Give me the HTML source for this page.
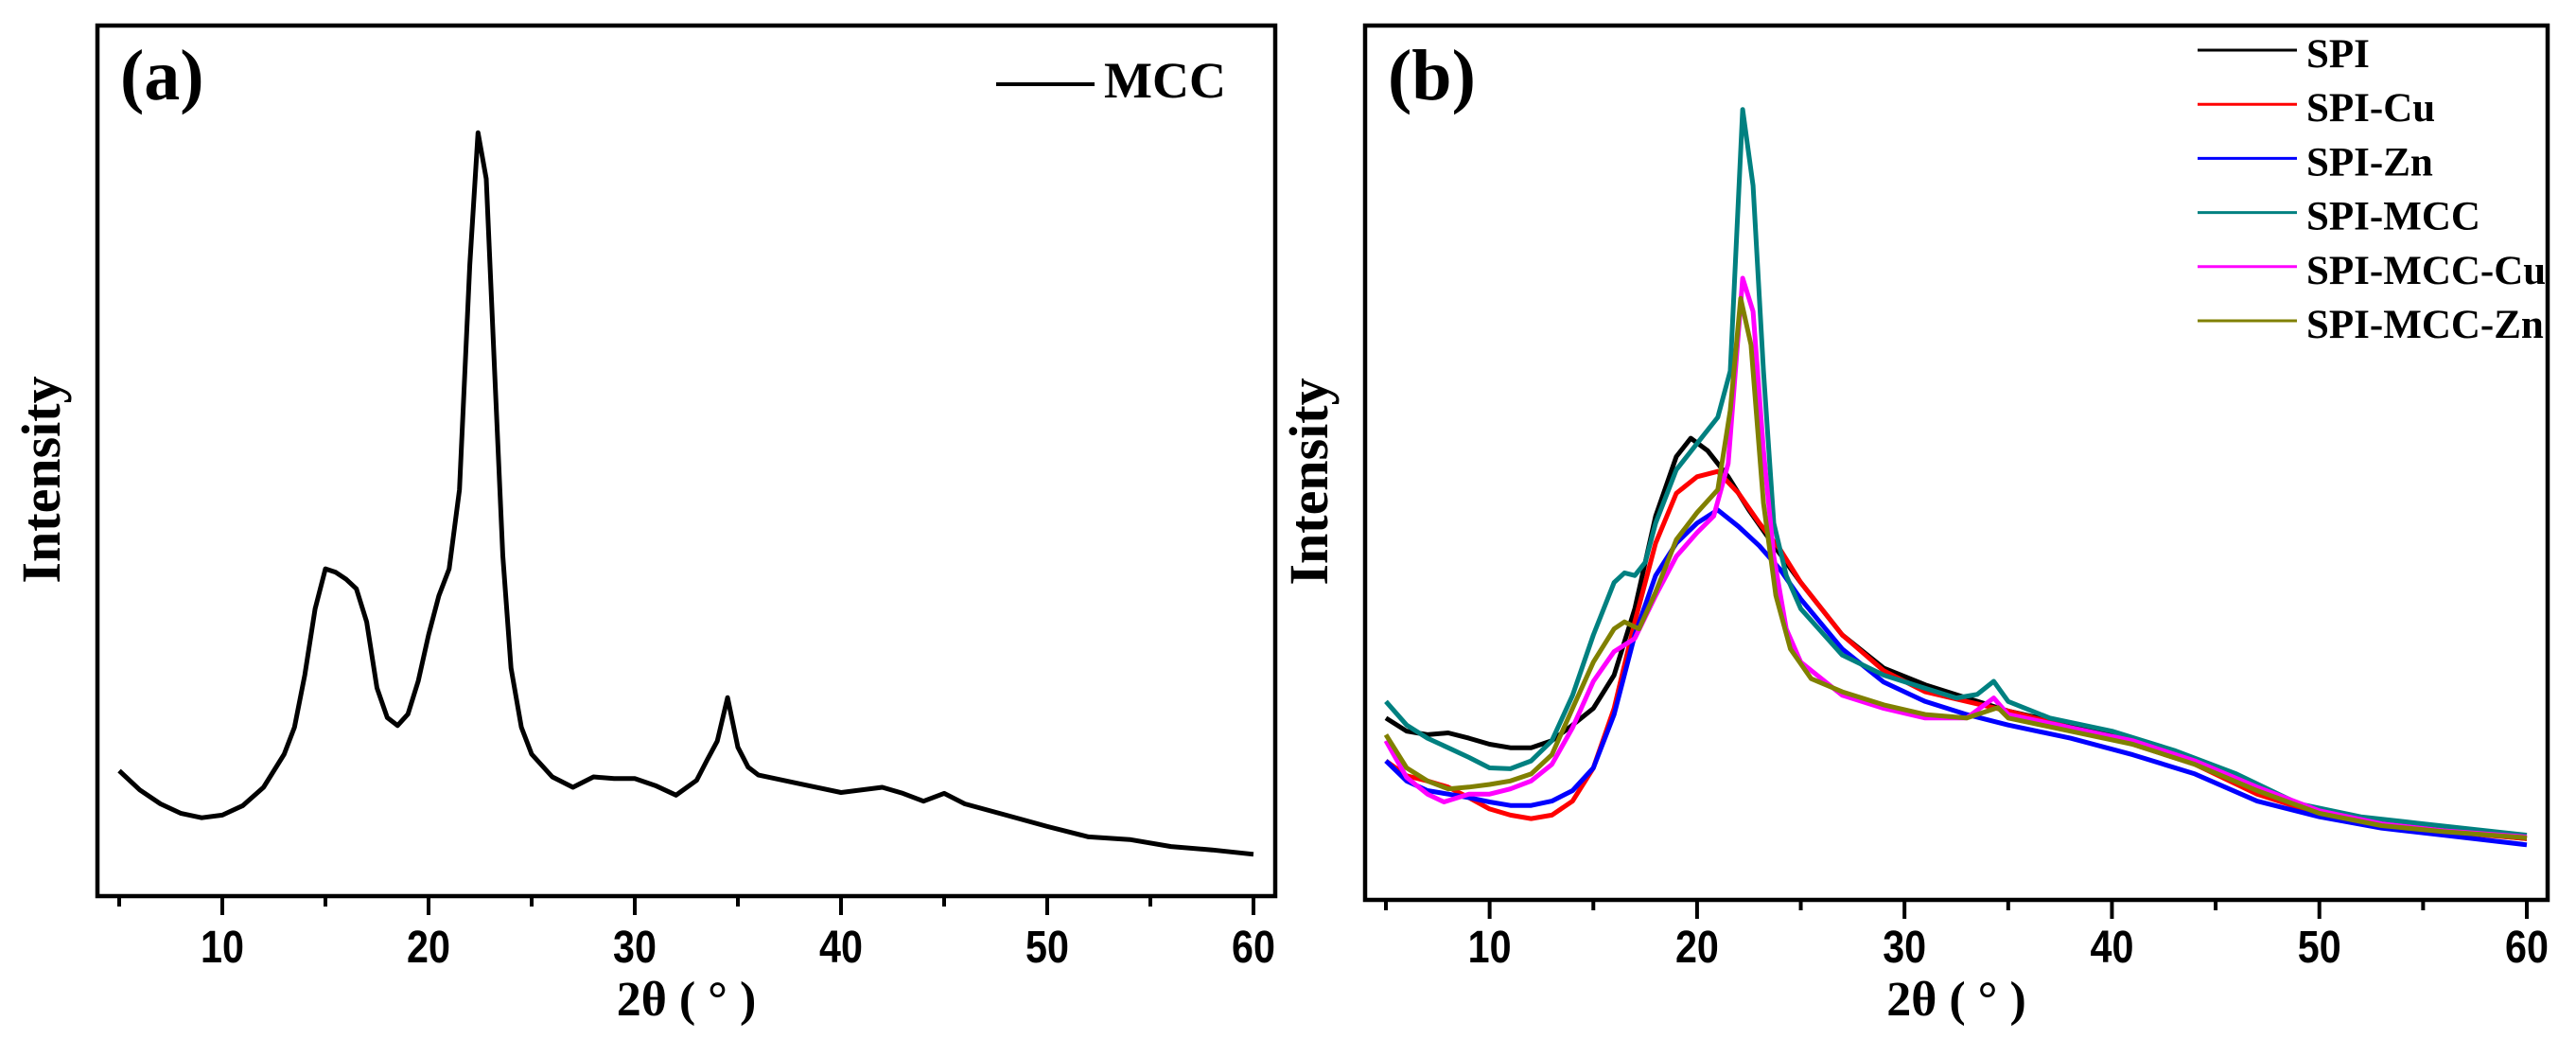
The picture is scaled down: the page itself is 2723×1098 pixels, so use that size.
<!DOCTYPE html>
<html><head><meta charset="utf-8">
<style>
html,body{margin:0;padding:0;background:#fff;}
svg{display:block;}
.tick{font-family:"Liberation Sans",sans-serif;font-weight:bold;font-size:48px;}
.ser{font-family:"Liberation Serif",serif;font-weight:bold;}
</style></head>
<body>
<svg id="chart" width="2723" height="1098" viewBox="0 0 2723 1098" xmlns="http://www.w3.org/2000/svg">
  <g id="pa"></g>
  <g id="pb"></g>
</svg>
<script>
const xTicks = [10,20,30,40,50,60];
const xMinor = [5,15,25,35,45,55];
const mccX = [5,6,7,8,9,10,11,12,13,13.5,14,14.5,15,15.5,16,16.5,17,17.5,18,18.5,19,19.5,20,20.5,21,21.5,22,22.4,22.8,23.2,23.6,24,24.5,25,26,27,28,29,30,31,32,33,33.5,34,34.5,35,35.5,36,38,40,42,43,44,45,46,48,50,52,54,56,58,60];
const mccY = [14.4,12.2,10.6,9.5,9.0,9.3,10.4,12.5,16.3,19.4,25.4,33.0,37.6,37.2,36.4,35.3,31.5,23.9,20.5,19.6,20.9,24.7,30.0,34.5,37.6,46.7,72.5,87.7,82.4,60.4,39.1,26.2,19.4,16.3,13.7,12.5,13.7,13.5,13.5,12.7,11.6,13.3,15.6,17.8,22.8,17.1,14.8,13.9,12.9,11.9,12.5,11.8,10.9,11.8,10.6,9.3,8.0,6.8,6.5,5.7,5.3,4.8];

const spiX = [5,6,7,8,9,10,11,12,13,14,15,16,17,18,19,19.7,20.5,21.5,22.5,23.5,25,27,29,31,33,35,38,41,44,47,50,53,56,60];
const spiY = [20.8,19.3,18.9,19.1,18.5,17.8,17.4,17.4,18.2,20.0,21.9,25.7,33.3,43.9,50.7,52.8,51.4,48.4,44.6,41.2,36.3,30.3,26.5,24.6,23.1,21.6,20.0,18.2,15.9,12.5,10.2,8.9,7.9,7.0];
const cuX = [5,6,7,8,9,10,11,12,13,14,15,16,17,18,19,20,21,22,23,24,25,27,29,31,33,35,38,41,44,47,50,53,56,60];
const cuY = [15.9,14.2,13.6,12.9,11.7,10.4,9.7,9.3,9.7,11.3,15.1,21.9,31.8,40.8,46.5,48.4,49.0,46.5,43.1,40.1,36.3,30.3,26.2,23.8,22.7,21.6,19.7,17.8,15.5,12.1,9.8,8.5,7.8,7.0];
const znX = [5,6,7,8,9,10,11,12,13,14,15,16,17,18,19,20,21,22,23,24,25,27,29,31,33,35,38,41,44,47,50,53,56,60];
const znY = [15.9,13.6,12.5,12.1,11.7,11.2,10.8,10.8,11.3,12.5,15.1,21.2,30.3,37.1,40.8,43.1,44.6,42.7,40.5,37.8,34.4,28.7,24.9,22.7,21.2,20.0,18.5,16.6,14.4,11.3,9.5,8.2,7.4,6.3];
const smX = [5,6,7,8,9,10,11,12,13,14,15,16,16.5,17,17.5,18,19,20,21,21.6,22.2,22.7,23.2,23.7,24.3,25,27,29,31,32.5,33.5,34.3,35,37,40,43,46,49,52,55,60];
const smY = [22.7,20.0,18.5,17.4,16.3,15.1,15.0,15.9,18.2,23.4,30.3,36.3,37.4,37.1,38.6,43.1,49.2,52.2,55.2,60.5,90.4,81.7,60.5,43.1,37.1,33.3,28.0,25.7,24.2,23.1,23.5,25.0,22.7,20.8,19.3,17.1,14.4,11.0,9.5,8.7,7.4];
const smcX = [5,6,7,7.8,9,10,11,12,13,14,15,16,17,18,19,20,20.8,21.5,22.2,22.7,23.2,23.7,24.3,25,27,29,31,33,34.3,35,38,41,44,47,50,53,56,60];
const smcY = [18.2,14.0,12.1,11.2,12.1,12.1,12.7,13.6,15.5,19.7,25.0,28.4,29.9,34.8,39.3,42.0,43.9,49.9,71.1,67.3,51.4,39.3,31.0,27.2,23.4,21.9,20.8,20.8,23.1,21.2,19.7,18.2,15.9,12.9,10.2,8.7,7.9,7.2];
const smzX = [5,6,7,8,9,10,11,12,13,14,15,16,16.5,17.2,18,19,20,21,21.6,22.1,22.6,23.2,23.8,24.5,25.5,27,29,31,33,34.5,35,38,41,44,47,50,53,56,60];
const smzY = [18.9,15.1,13.6,12.7,12.9,13.2,13.6,14.4,16.6,21.9,27.2,31.0,31.8,31.0,35.2,41.2,44.3,46.9,56.0,68.8,63.5,45.4,34.8,28.7,25.3,23.8,22.3,21.2,20.8,22.0,20.8,19.3,17.8,15.5,12.5,9.9,8.5,7.8,7.1];

const seriesB = [
  {name:'SPI', color:'#000000', x:spiX, y:spiY},
  {name:'SPI-Cu', color:'#ff0000', x:cuX, y:cuY},
  {name:'SPI-Zn', color:'#0000ff', x:znX, y:znY},
  {name:'SPI-MCC', color:'#008080', x:smX, y:smY},
  {name:'SPI-MCC-Cu', color:'#ff00ff', x:smcX, y:smcY},
  {name:'SPI-MCC-Zn', color:'#808000', x:smzX, y:smzY}
];

const NS = 'http://www.w3.org/2000/svg';
function mk(parent, tag, attrs, text){
  const e = document.createElementNS(NS, tag);
  for (const k in attrs) e.setAttribute(k, attrs[k]);
  if (text !== undefined) e.textContent = text;
  parent.appendChild(e);
  return e;
}

function panel(g, cfg){
  const sx = v => cfg.x5 + (v - 5) * (cfg.x60 - cfg.x5) / 55;
  const sy = v => cfg.bottom - v * (cfg.bottom - cfg.top) / 100;
  const fr = mk(g,'rect',{x:cfg.left,y:cfg.top,width:cfg.right-cfg.left,height:cfg.bottom-cfg.top,fill:'none',stroke:'#000','stroke-width':4.5});
  
  
  xTicks.forEach(t => {
    const l = mk(g,'line',{x1:sx(t),x2:sx(t),y1:cfg.bottom,y2:cfg.bottom+20,stroke:'#000','stroke-width':4});
    
    
    const cx = sx(t);
    const tx = mk(g,'text',{x:0,y:1017,'text-anchor':'middle',class:'tick',transform:'translate('+cx+' 0) scale(0.86 1)'}, String(t));
    
    
  });
  xMinor.forEach(t => {
    const l = mk(g,'line',{x1:sx(t),x2:sx(t),y1:cfg.bottom,y2:cfg.bottom+11,stroke:'#000','stroke-width':4});
    
    
  });
  cfg.series.forEach(s => {
    const pts = s.x.map((v,i) => sx(v).toFixed(1) + ',' + sy(s.y[i]).toFixed(1)).join(' ');
    const p = mk(g,'polyline',{points:pts,fill:'none',stroke:s.color,'stroke-width':5,'stroke-linejoin':'round'});
    
    
  });
  const xt = mk(g,'text',{x:(cfg.left+cfg.right)/2,y:1073,'text-anchor':'middle',class:'ser','font-size':52}, '2θ ( ° )');
  
  
  const cy = (cfg.top+cfg.bottom)/2 + 20;
  const yt = mk(g,'text',{x:cfg.left-40,y:cy,'text-anchor':'middle',class:'ser','font-size':58,transform:'rotate(-90 '+(cfg.left-40)+' '+cy+')'}, 'Intensity');
  
  
  const pl = mk(g,'text',{x:cfg.left+24,y:105,class:'ser','font-size':76}, cfg.label);
  
  
  return {sx, sy};
}

const pa = document.getElementById('pa');
panel(pa, {id:'a', left:103, right:1348, top:27, bottom:947, x5:126, x60:1325, label:'(a)',
  series:[{name:'MCC', color:'#000', x:mccX, y:mccY}]});
const lgA = mk(pa,'g',{});


mk(lgA,'line',{x1:1053,x2:1157,y1:89,y2:89,stroke:'#000','stroke-width':4});
mk(lgA,'text',{x:1167,y:103,class:'ser','font-size':54}, 'MCC');

const pb = document.getElementById('pb');
panel(pb, {id:'b', left:1443, right:2693, top:27, bottom:951, x5:1465, x60:2671, label:'(b)', series:seriesB});
seriesB.forEach((s,i) => {
  const y = 53 + i*57.2;
  const lg = mk(pb,'g',{});
  
  
  mk(lg,'line',{x1:2323,x2:2428,y1:y,y2:y,stroke:s.color,'stroke-width':3});
  mk(lg,'text',{x:2438,y:y+18,class:'ser','font-size':43}, s.name);
});
</script>
</body></html>
